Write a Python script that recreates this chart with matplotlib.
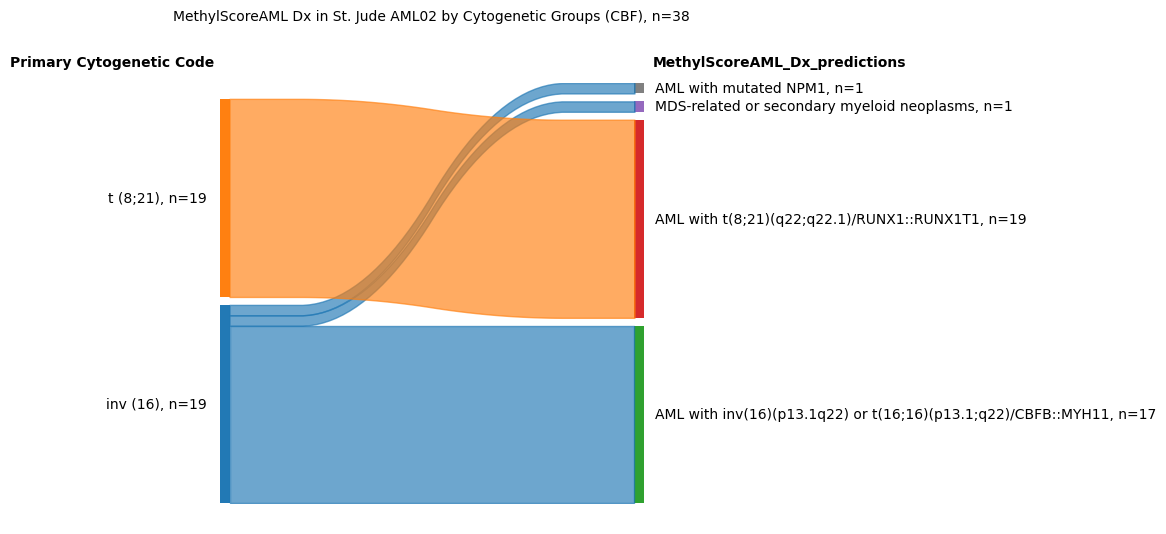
import numpy as np
import matplotlib
matplotlib.use("Agg")
import matplotlib.pyplot as plt

title = "MethylScoreAML Dx in St. Jude AML02 by Cytogenetic Groups (CBF), n=38"
left_header = "Primary Cytogenetic Code"
right_header = "MethylScoreAML_Dx_predictions"

# left categories (bottom to top)
left_labels = ["inv (16)", "t (8;21)"]
left_colors = ["#1f77b4", "#ff7f0e"]
# right categories (bottom to top)
right_labels = [
    "AML with inv(16)(p13.1q22) or t(16;16)(p13.1;q22)/CBFB::MYH11",
    "AML with t(8;21)(q22;q22.1)/RUNX1::RUNX1T1",
    "MDS-related or secondary myeloid neoplasms",
    "AML with mutated NPM1",
]
right_colors = ["#2ca02c", "#d62728", "#9467bd", "#7f7f7f"]

# flows: source index, target index, count
flow_src = [0, 0, 0, 1]
flow_dst = [0, 2, 3, 1]
flow_cnt = [17, 1, 1, 19]

total = sum(flow_cnt)
gap = 0.02 * total
xmax = 1.0
bw = 0.0235 * xmax

left_tot = [sum(c for s, c in zip(flow_src, flow_cnt) if s == i) for i in range(len(left_labels))]
right_tot = [sum(c for d, c in zip(flow_dst, flow_cnt) if d == j) for j in range(len(right_labels))]

def stack(tots):
    bottoms = []
    b = 0.0
    for t in tots:
        bottoms.append(b)
        b += t + gap
    return bottoms

left_bot = stack(left_tot)
right_bot = stack(right_tot)

fig = plt.figure(figsize=(11.66, 5.34), dpi=100)
ax = fig.add_axes([220 / 1166, 31 / 534, 424 / 1166, 420 / 534])
ax.axis("off")
ax.set_xlim(-bw, xmax + bw)
top_all = right_bot[-1] + right_tot[-1]
ax.set_ylim(0, top_all)

# bars and labels
for i, lab in enumerate(left_labels):
    b, t = left_bot[i], left_bot[i] + left_tot[i]
    ax.fill_between([-bw, 0], b, t, color=left_colors[i], alpha=0.99, lw=0)
    ax.text(-0.055 * xmax, (b + t) / 2 - 0.08, f"{lab}, n={left_tot[i]}", ha="right", va="center", fontsize=10)
for j, lab in enumerate(right_labels):
    b, t = right_bot[j], right_bot[j] + right_tot[j]
    ax.fill_between([xmax, xmax + bw], b, t, color=right_colors[j], alpha=0.99, lw=0)
    ax.text(1.05 * xmax, (b + t) / 2 - 0.08, f"{lab}, n={right_tot[j]}", ha="left", va="center", fontsize=10, clip_on=False)

# flows
lcur = list(left_bot)
rcur = list(right_bot)
order_left = sorted(range(len(flow_cnt)), key=lambda k: (flow_src[k], flow_dst[k]))
lpos = {}
for k in order_left:
    s = flow_src[k]
    lpos[k] = lcur[s]
    lcur[s] += flow_cnt[k]
order_right = sorted(range(len(flow_cnt)), key=lambda k: (flow_dst[k], flow_src[k]))
rpos = {}
for k in order_right:
    d = flow_dst[k]
    rpos[k] = rcur[d]
    rcur[d] += flow_cnt[k]

w = 0.05 * np.ones(20)
for k in range(len(flow_cnt)):
    lb, rb = lpos[k], rpos[k]
    c = flow_cnt[k]
    yd = np.array(50 * [lb] + 50 * [rb], dtype=float)
    yu = np.array(50 * [lb + c] + 50 * [rb + c], dtype=float)
    yd = np.convolve(np.convolve(yd, w, mode="valid"), w, mode="valid")
    yu = np.convolve(np.convolve(yu, w, mode="valid"), w, mode="valid")
    xs = np.linspace(0, xmax, len(yd))
    ax.fill_between(xs, yd, yu, color=left_colors[flow_src[k]], alpha=0.65)

fig.text(431 / 1166, 1 - 17 / 534, title, ha="center", va="center", fontsize=10)
fig.text(214 / 1166, 1 - 63 / 534, left_header, ha="right", va="center", fontsize=10, fontweight="bold")
fig.text(653 / 1166, 1 - 63 / 534, right_header, ha="left", va="center", fontsize=10, fontweight="bold")

fig.savefig("out.png", dpi=100)
